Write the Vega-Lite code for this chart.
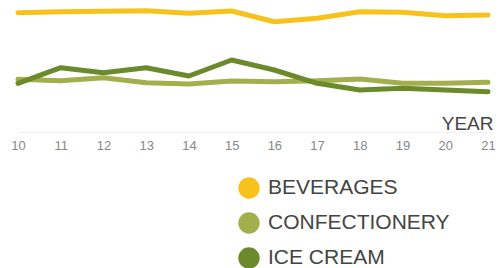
{
  "$schema": "https://vega.github.io/schema/vega-lite/v6.json",
  "autosize": "none",
  "width": 470,
  "height": 132,
  "padding": {"left": 18, "top": 0, "right": 12, "bottom": 136},
  "background": "white",
  "config": {"view": {"stroke": null}},
  "data": {"values": [
    {"year": 10, "category": "BEVERAGES", "value": 119.3},
    {"year": 11, "category": "BEVERAGES", "value": 120.3},
    {"year": 12, "category": "BEVERAGES", "value": 120.7},
    {"year": 13, "category": "BEVERAGES", "value": 121.3},
    {"year": 14, "category": "BEVERAGES", "value": 118.7},
    {"year": 15, "category": "BEVERAGES", "value": 121},
    {"year": 16, "category": "BEVERAGES", "value": 110.3},
    {"year": 17, "category": "BEVERAGES", "value": 113.7},
    {"year": 18, "category": "BEVERAGES", "value": 120.3},
    {"year": 19, "category": "BEVERAGES", "value": 119.7},
    {"year": 20, "category": "BEVERAGES", "value": 116.3},
    {"year": 21, "category": "BEVERAGES", "value": 117},
    {"year": 10, "category": "CONFECTIONERY", "value": 52.7},
    {"year": 11, "category": "CONFECTIONERY", "value": 51.3},
    {"year": 12, "category": "CONFECTIONERY", "value": 54.3},
    {"year": 13, "category": "CONFECTIONERY", "value": 49.3},
    {"year": 14, "category": "CONFECTIONERY", "value": 48},
    {"year": 15, "category": "CONFECTIONERY", "value": 51},
    {"year": 16, "category": "CONFECTIONERY", "value": 50.3},
    {"year": 17, "category": "CONFECTIONERY", "value": 51.3},
    {"year": 18, "category": "CONFECTIONERY", "value": 53},
    {"year": 19, "category": "CONFECTIONERY", "value": 48.7},
    {"year": 20, "category": "CONFECTIONERY", "value": 48.7},
    {"year": 21, "category": "CONFECTIONERY", "value": 49.7},
    {"year": 10, "category": "ICE CREAM", "value": 48.7},
    {"year": 11, "category": "ICE CREAM", "value": 64.3},
    {"year": 12, "category": "ICE CREAM", "value": 59.3},
    {"year": 13, "category": "ICE CREAM", "value": 64.3},
    {"year": 14, "category": "ICE CREAM", "value": 56},
    {"year": 15, "category": "ICE CREAM", "value": 72},
    {"year": 16, "category": "ICE CREAM", "value": 62},
    {"year": 17, "category": "ICE CREAM", "value": 48.7},
    {"year": 18, "category": "ICE CREAM", "value": 42},
    {"year": 19, "category": "ICE CREAM", "value": 43.7},
    {"year": 20, "category": "ICE CREAM", "value": 42},
    {"year": 21, "category": "ICE CREAM", "value": 40.3}
  ]},
  "mark": {"type": "line", "strokeWidth": 5, "interpolate": "linear", "strokeCap": "round", "strokeJoin": "round"},
  "encoding": {
    "x": {
      "field": "year", "type": "quantitative",
      "scale": {"domain": [10, 21], "nice": false, "zero": false},
      "axis": {
        "values": [10, 11, 12, 13, 14, 15, 16, 17, 18, 19, 20, 21],
        "grid": false, "ticks": false, "labelFlush": false,
        "domainColor": "#f0f0f0", "domainWidth": 1,
        "labelFont": "Liberation Sans", "labelFontSize": 13, "labelColor": "#888",
        "labelPadding": 7, "labelOverlap": false,
        "title": "YEAR", "titleFont": "Liberation Sans", "titleFontSize": 19,
        "titleFontWeight": "normal", "titleColor": "#444",
        "titleAnchor": null, "titleAlign": "right", "titleX": 475, "titleY": -3,
        "titleBaseline": "alphabetic"
      }
    },
    "y": {
      "field": "value", "type": "quantitative",
      "scale": {"domain": [0, 132], "nice": false, "zero": false},
      "axis": null
    },
    "color": {
      "field": "category", "type": "nominal",
      "scale": {"domain": ["BEVERAGES", "CONFECTIONERY", "ICE CREAM"], "range": ["#F8C21C", "#A3AE4C", "#6B8A2C"]},
      "legend": {
        "orient": "none", "legendX": 220, "legendY": 177, "title": null,
        "symbolType": "circle", "symbolSize": 460, "symbolStrokeWidth": 0,
        "labelFont": "Liberation Sans", "labelFontSize": 21, "labelColor": "#444",
        "labelOffset": 8, "rowPadding": 13, "labelLimit": 0,
        "encode": {"symbols": {"update": {"fill": {"scale": "color", "field": "value"}, "strokeWidth": {"value": 0}, "opacity": {"value": 1}}}}
      }
    }
  }
}
